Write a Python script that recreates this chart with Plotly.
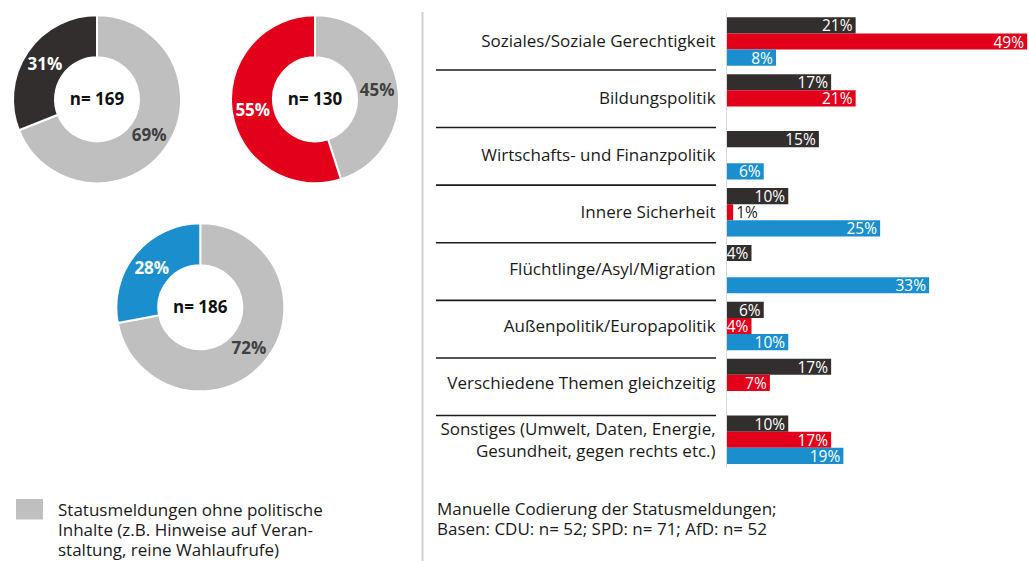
import plotly.graph_objects as go

# ---------------- data ----------------
categories = [
    "Soziales/Soziale Gerechtigkeit",
    "Bildungspolitik",
    "Wirtschafts- und Finanzpolitik",
    "Innere Sicherheit",
    "Flüchtlinge/Asyl/Migration",
    "Außenpolitik/Europapolitik",
    "Verschiedene Themen gleichzeitig",
    "Sonstiges (Umwelt, Daten, Energie,<br>Gesundheit, gegen rechts etc.)",
]
cdu_values = [21, 17, 15, 10, 4, 6, 17, 10]
spd_values = [49, 21, None, 1, None, 4, 7, 17]
afd_values = [8, None, 6, 25, 33, 10, None, 19]

donut_labels = ["Statusmeldungen ohne politische Inhalte", "Politische Inhalte"]
cdu_donut = [69, 31]
spd_donut = [45, 55]
afd_donut = [72, 28]
donut_n = ["n= 169", "n= 130", "n= 186"]

legend_lines = ["Statusmeldungen ohne politische",
                "Inhalte (z.B. Hinweise auf Veran-",
                "staltung, reine Wahlaufrufe)"]
note_lines = ["Manuelle Codierung der Statusmeldungen;",
              "Basen: CDU: n= 52; SPD: n= 71; AfD: n= 52"]

# ---------------- styling ----------------
W, H = 1029, 561
FONT = "Open Sans"
DARK = "#322e2d"
RED = "#e3001b"
BLUE = "#1b8fce"
GRAY = "#bfbfbf"
TXT = "#1a1a1a"
LABEL_SIZE = 17


def px_x(p):
    return p / W


def px_y(p):
    return 1 - p / H


fig = go.Figure()

# ---------------- donuts ----------------
donuts = [
    (cdu_donut, DARK, donut_n[0], (97, 99.3)),
    (spd_donut, RED, donut_n[1], (315, 99.3)),
    (afd_donut, BLUE, donut_n[2], (200.3, 307.3)),
]
R = 84
for vals, col, ntext, (cx, cy) in donuts:
    fig.add_trace(go.Pie(
        labels=donut_labels,
        values=vals,
        hole=0.5,
        sort=False,
        direction="clockwise",
        rotation=0,
        marker=dict(colors=[GRAY, col], line=dict(color="white", width=2)),
        texttemplate="<b>%{value}%</b>",
        textposition="inside",
        insidetextorientation="horizontal",
        textfont=dict(family=FONT, size=17, color=["#404040", "white"]),
        title=dict(text="<b>" + ntext + "</b>", position="middle center",
                   font=dict(family=FONT, size=17, color="#111111")),
        domain=dict(x=[px_x(cx - R), px_x(cx + R)], y=[px_y(cy + R), px_y(cy - R)]),
        showlegend=False,
        hoverinfo="skip",
    ))

# ---------------- bars ----------------
def bar_trace(vals, color, name):
    return go.Bar(
        name=name,
        y=categories,
        x=vals,
        orientation="h",
        marker=dict(color=color, line=dict(width=0)),
        text=[(f"{v}%" if v is not None else "") for v in vals],
        textposition=[("outside" if (v is not None and v < 3) else "inside") for v in vals],
        textangle=0,
        insidetextanchor="end",
        insidetextfont=dict(family=FONT, size=15.5, color="white"),
        outsidetextfont=dict(family=FONT, size=15.5, color=TXT),
        cliponaxis=False,
        xaxis="x",
        yaxis="y",
        hoverinfo="skip",
    )


fig.add_trace(bar_trace(cdu_values, DARK, "CDU"))
fig.add_trace(bar_trace(spd_values, RED, "SPD"))
fig.add_trace(bar_trace(afd_values, BLUE, "AfD"))

# separator lines between categories
shapes = []
sep_step = 1.0123
for i in range(len(categories) - 1):
    yv = 0.5 + sep_step * i
    shapes.append(dict(type="line", xref="paper", yref="y",
                       x0=px_x(436), x1=px_x(716), y0=yv, y1=yv,
                       line=dict(color=TXT, width=1.6)))
# vertical divider
shapes.append(dict(type="line", xref="paper", yref="paper",
                   x0=px_x(422.5), x1=px_x(422.5), y0=0, y1=px_y(12),
                   line=dict(color="#d0d0d0", width=2)))
# legend square
shapes.append(dict(type="rect", xref="paper", yref="paper",
                   x0=px_x(16), x1=px_x(43), y0=px_y(519.5), y1=px_y(499),
                   fillcolor=GRAY, line=dict(width=0)))

annotations = []
for k, line in enumerate(legend_lines):
    annotations.append(dict(text=line, xref="paper", yref="paper", x=px_x(56), y=px_y(509 + 20 * k),
                            xanchor="left", yanchor="middle", align="left", showarrow=False,
                            font=dict(family=FONT, size=LABEL_SIZE, color=TXT)))
for k, line in enumerate(note_lines):
    annotations.append(dict(text=line, xref="paper", yref="paper", x=px_x(435), y=px_y(508 + 20 * k),
                            xanchor="left", yanchor="middle", align="left", showarrow=False,
                            font=dict(family=FONT, size=LABEL_SIZE, color=TXT)))

fig.update_layout(
    width=W, height=H,
    margin=dict(l=0, r=0, t=0, b=0),
    paper_bgcolor="white", plot_bgcolor="white",
    showlegend=False,
    barmode="group",
    bargap=0.15,
    bargroupgap=0,
    uniformtext=dict(minsize=15, mode="show"),
    font=dict(family=FONT, color=TXT),
    xaxis=dict(domain=[px_x(727), 1.0], range=[0, 49.3], visible=False, fixedrange=True),
    yaxis=dict(domain=[px_y(468.25), px_y(13.05)], type="category",
               categoryorder="array", categoryarray=categories,
               range=[7.5, -0.5], showgrid=False, zeroline=False,
               showline=True, linecolor="#d9d9d9", linewidth=1,
               ticks="", ticklabelstandoff=7, fixedrange=True,
               tickfont=dict(family=FONT, size=LABEL_SIZE, color=TXT)),
    shapes=shapes,
    annotations=annotations,
)

fig.write_html("out.html",
               config={"displayModeBar": False},
               post_script="document.body.style.margin='0';document.body.style.padding='0';")
